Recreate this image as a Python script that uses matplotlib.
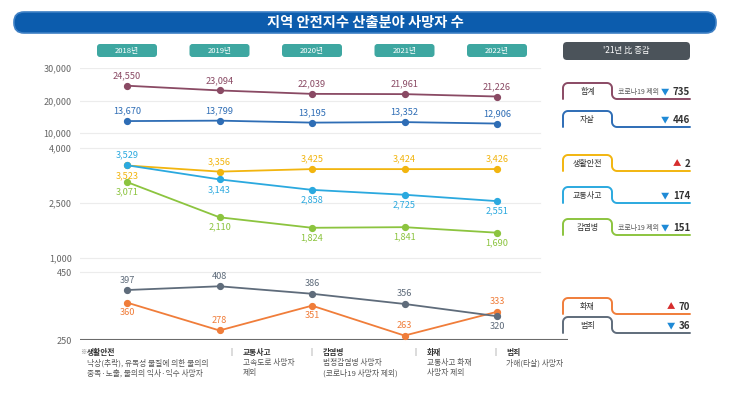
import numpy as np
import matplotlib
matplotlib.use("Agg")
import matplotlib.pyplot as plt
from matplotlib.patches import FancyBboxPatch
from matplotlib.ticker import FixedLocator, FuncFormatter

plt.rcParams['font.family'] = ['Noto Sans CJK KR', 'DejaVu Sans']

# ── data ────────────────────────────────────────────────
years = ['2018년', '2019년', '2020년', '2021년', '2022년']
series_names = ['합계', '자살', '생활안전', '교통사고', '감염병', '화재', '범죄']
total   = [24550, 23094, 22039, 21961, 21226]
suicide = [13670, 13799, 13195, 13352, 12906]
life    = [3523, 3356, 3425, 3424, 3426]
traffic = [3529, 3143, 2858, 2725, 2551]
disease = [3071, 2110, 1824, 1841, 1690]
fire    = [360, 278, 351, 263, 333]
crime   = [397, 408, 386, 356, 320]
change_vals = [735, 446, 2, 174, 151, 70, 36]
change_up   = [False, False, True, False, False, True, False]
change_note = ['코로나19 제외', '', '', '', '코로나19 제외', '', '']
yticks = [250, 450, 1000, 2500, 4000, 10000, 20000, 30000]

colors = ['#8a4a64', '#2e6db5', '#f2b50f', '#2ba9df', '#8cc43f', '#f07d3a', '#5f6c7b']
# label above (+1) / below (-1) the point
label_side = [
    [1, 1, 1, 1, 1],
    [1, 1, 1, 1, 1],
    [-1, 1, 1, 1, 1],
    [1, -1, -1, -1, -1],
    [-1, -1, -1, -1, -1],
    [-1, 1, -1, 1, 1],
    [1, 1, 1, 1, -1],
]
all_series = [total, suicide, life, traffic, disease, fire, crime]

# ── broken (piecewise linear) y scale ───────────────────
knots_v = np.array([100, 250, 450, 1000, 4000, 10000, 30000, 100000], float)
knots_u = np.array([10, 61, 129, 143, 253, 268, 333, 560.5])

def fwd(v):
    return np.interp(v, knots_v, knots_u)

def inv(u):
    return np.interp(u, knots_u, knots_v)

W, H = 730, 401
fig = plt.figure(figsize=(W / 100, H / 100), dpi=100)

# overlay axes in pixel units for header, badges and tabs
ov = fig.add_axes([0, 0, 1, 1])
ov.set_xlim(0, W)
ov.set_ylim(H, 0)
ov.axis('off')

ov.add_patch(FancyBboxPatch((14, 12), 702, 21, boxstyle="round,pad=0,rounding_size=10",
                            facecolor='#0c5cad', edgecolor='#3d7fc4', lw=1.2))
ov.text(365, 22.5, '지역 안전지수 산출분야 사망자 수', color='white', fontsize=10.3,
        fontweight='bold', ha='center', va='center')

# main axes
ax_l, ax_r = 80, 568
ax = fig.add_axes([ax_l / W, (fwd(250)) / H, (ax_r - ax_l) / W, (fwd(30000) - fwd(250)) / H])
ax.patch.set_alpha(0)
ax.set_yscale('function', functions=(fwd, inv))
ax.set_ylim(250, 30000)
x0_px, dx_px = 127, 92.5
ax.set_xlim((ax_l - x0_px) / dx_px, (ax_r - x0_px) / dx_px)
for sp in ax.spines.values():
    sp.set_visible(False)
ax.yaxis.set_major_locator(FixedLocator(yticks))
ax.yaxis.set_minor_locator(FixedLocator([]))
ax.yaxis.set_major_formatter(FuncFormatter(lambda v, p: f'{int(round(v)):,}'))
ax.tick_params(axis='y', length=0, pad=6, labelsize=6.5, labelcolor='#666666')
ax.set_xticks([])

grid_end = (540 - ax_l) / (ax_r - ax_l)
for t in yticks[1:]:
    ax.axhline(t, xmin=0, xmax=grid_end, color='#ececec', lw=0.8, zorder=0)
ax.axhline(250, color='#6b6b6b', lw=1.5, zorder=1)

xs = np.arange(len(years))
for name, vals, col, sides in zip(series_names, all_series, colors, label_side):
    ax.plot(xs, vals, color=col, lw=1.3, marker='o', markersize=4.2, zorder=3)
    for x, v, s in zip(xs, vals, sides):
        ax.annotate(f'{v:,}', (x, v), xytext=(0, 7.2 * s), textcoords='offset points',
                    ha='center', va='center', fontsize=6.6, color=col)

# year badges
for i, yr in enumerate(years):
    cx = x0_px + dx_px * i
    ov.add_patch(FancyBboxPatch((cx - 30, 44), 60, 13, boxstyle="round,pad=0,rounding_size=3",
                                facecolor='#3ea7a1', edgecolor='none'))
    ov.text(cx, 50.5, yr, color='white', fontsize=5.5, ha='center', va='center')

ov.add_patch(FancyBboxPatch((563, 42), 127, 18, boxstyle="round,pad=0,rounding_size=4",
                            facecolor='#4b535a', edgecolor='none'))
ov.text(626.5, 51, "'21년 比 증감", color='white', fontsize=6, ha='center', va='center')

# legend tabs
tab_tops = [83, 111, 155, 187, 219, 298, 317]
tab_h = 16

def tab_path(top, bot, x0=563, x1=612, x2=690, r=5):
    a = np.linspace(0, np.pi / 2, 10)
    px = [x0, x0]
    py = [bot, top + r]
    px += list(x0 + r - r * np.cos(a)); py += list(top + r - r * np.sin(a))
    px += list(x1 - r + r * np.sin(a)); py += list(top + r - r * np.cos(a))
    px += list(x1 + r - r * np.cos(a)); py += list(bot - r + r * np.sin(a))
    px += [x2]; py += [bot]
    return px, py

for name, col, top, val, up, note in zip(series_names, colors, tab_tops,
                                         change_vals, change_up, change_note):
    bot = top + tab_h
    px, py = tab_path(top, bot)
    ov.plot(px, py, color=col, lw=1.4, solid_capstyle='round')
    ov.text(587.5, top + 8.5, name, fontsize=5.8, color='#333333', ha='center', va='center')
    ov.text(690, top + 9, f'{val}', fontsize=7, fontweight='bold', color='#333333',
            ha='right', va='center')
    tx = 690 - 5.7 * len(str(val)) - 3.5
    ov.text(tx, top + 9, '▲' if up else '▼', fontsize=6,
            color='#d62d2d' if up else '#1f8ad6', ha='right', va='center')
    if note:
        ov.text(tx - 10, top + 9, note, fontsize=5, color='#555555', ha='right', va='center')

# notes
note_blocks = [
    (87, '생활안전', ['낙상(추락), 유독성 물질에 의한 불의의', '중독·노출, 불의의 익사·익수 사망자']),
    (243, '교통사고', ['고속도로 사망자', '제외']),
    (323, '감염병', ['법정감염병 사망자', '(코로나19 사망자 제외)']),
    (427, '화재', ['교통사고 화재', '사망자 제외']),
    (506, '범죄', ['가해(타살) 사망자']),
]
ov.text(80, 352.5, '※', fontsize=4.5, color='#777777', ha='left', va='center')
for x, head, lines in note_blocks:
    ov.text(x, 352.5, head, fontsize=5.6, fontweight='bold', color='#333333',
            ha='left', va='center')
    for k, ln in enumerate(lines):
        ov.text(x, 363 + 10.5 * k, ln, fontsize=5.6, color='#555555', ha='left', va='center')
for sx in [231, 311, 415, 495]:
    ov.text(sx, 352.5, '|', fontsize=5.5, color='#777777', ha='center', va='center')

fig.savefig('out.png', dpi=100)
plt.close(fig)
